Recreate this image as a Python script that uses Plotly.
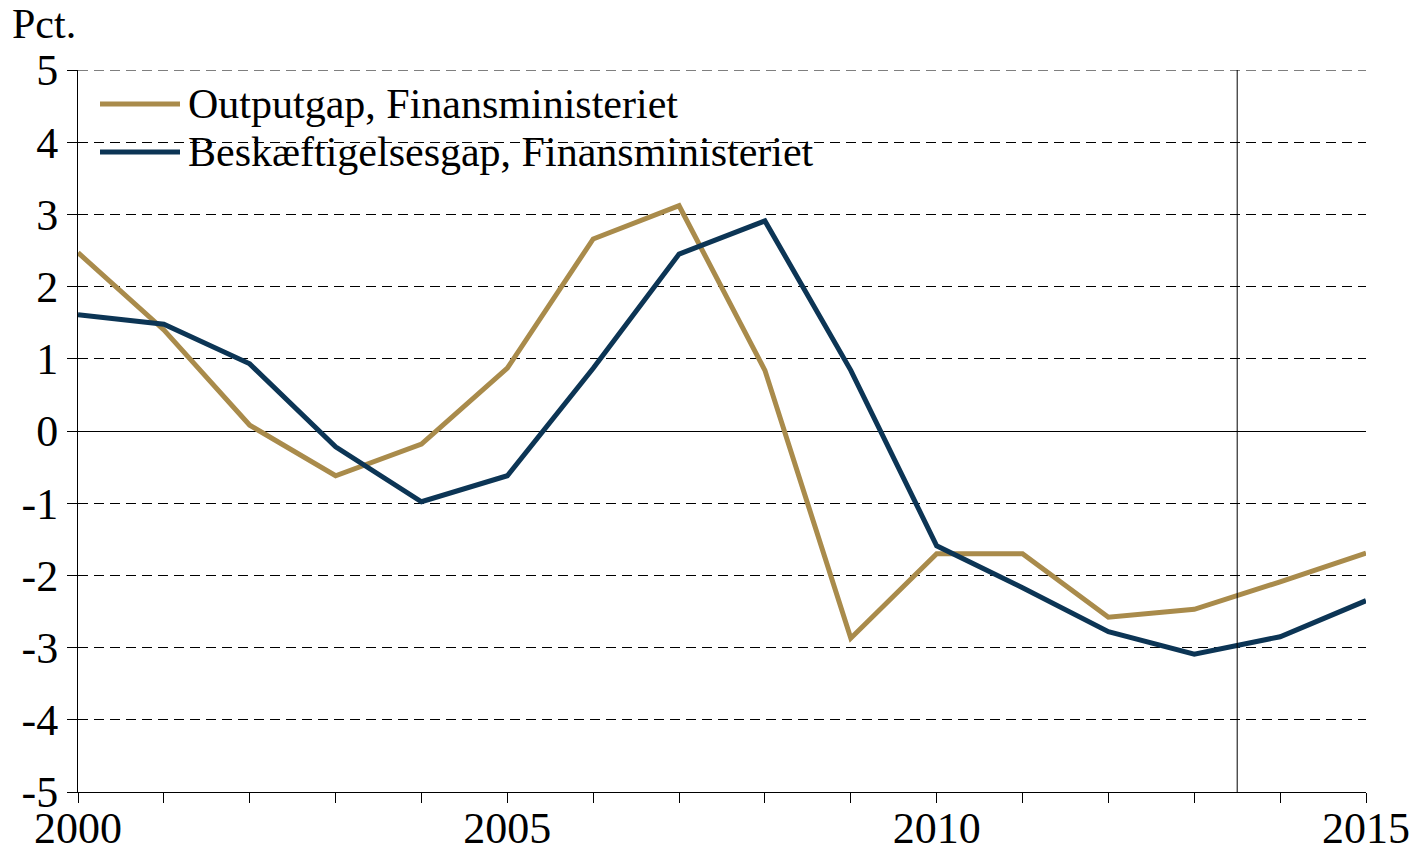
import plotly.graph_objects as go

years = list(range(2000, 2016))
outputgap = [2.47, 1.40, 0.08, -0.62, -0.18, 0.87, 2.66, 3.12, 0.84, -2.87,
             -1.70, -1.70, -2.58, -2.47, -2.09, -1.69]
beskaeftigelsesgap = [1.61, 1.48, 0.93, -0.22, -0.98, -0.62, 0.87, 2.45, 2.91, 0.84,
                      -1.59, -2.17, -2.78, -3.09, -2.85, -2.35]
series_names = ["Outputgap, Finansministeriet", "Beskæftigelsesgap, Finansministeriet"]
y_ticks = list(range(-5, 6))
x_label_years = [2000, 2005, 2010, 2015]
forecast_start = 2013.5

GOLD = "#A98B4B"
NAVY = "#0C3555"
FONT = "Liberation Serif, Times New Roman, serif"
DASH = "10px,6px"

fig = go.Figure()
fig.add_trace(go.Scatter(x=years, y=outputgap, mode="lines", name=series_names[0],
                         line=dict(color=GOLD, width=5)))
fig.add_trace(go.Scatter(x=years, y=beskaeftigelsesgap, mode="lines", name=series_names[1],
                         line=dict(color=NAVY, width=5)))

# figure fills the whole page (body margin removed below)
W, H = 1416, 851
# plot area: left 78, right 1366, top 70, bottom 792
L, T, R, B = 78, 70, W - 1366, H - 792
pw, ph = W - L - R, H - T - B


def px_x(p):
    return (p - L) / pw


def px_y(p):
    return (H - B - p) / ph


# hand-drawn legend with long line samples
for i, (name, col) in enumerate(zip(series_names, [GOLD, NAVY])):
    yy = px_y(104 + 48 * i)
    fig.add_shape(type="line", xref="paper", yref="paper",
                  x0=px_x(100), x1=px_x(180), y0=yy, y1=yy,
                  line=dict(color=col, width=5))
    fig.add_annotation(xref="paper", yref="paper", x=px_x(186), y=yy,
                       text=name, showarrow=False, xanchor="left", yanchor="middle",
                       font=dict(size=42, color="black", family=FONT))

# top gridline (plotly drops it at the edge)
fig.add_shape(type="line", xref="paper", yref="y", x0=0, x1=1, y0=5, y1=5,
              line=dict(color="black", width=1, dash=DASH))

# forecast divider
fig.add_shape(type="line", xref="x", yref="paper", x0=forecast_start, x1=forecast_start,
              y0=0, y1=1, line=dict(color="black", width=1))

fig.add_annotation(xref="paper", yref="paper", x=px_x(10), y=px_y(24), text="Pct.",
                   showarrow=False, xanchor="left", yanchor="middle",
                   font=dict(size=42, color="black", family=FONT))

fig.update_layout(
    width=W, height=H,
    margin=dict(l=L, r=R, t=T, b=B, autoexpand=False),
    plot_bgcolor="white", paper_bgcolor="white",
    showlegend=False,
    font=dict(family=FONT, size=44, color="black"),
    xaxis=dict(range=[2000, 2015], tickmode="array", tickvals=years,
               ticktext=[str(y) if y in x_label_years else "" for y in years],
               ticks="outside", ticklen=10, tickcolor="black", tickwidth=1,
               ticklabelstandoff=-13,
               showgrid=False, showline=True, linecolor="black", linewidth=1,
               zeroline=False, automargin=False, tickfont=dict(size=44)),
    yaxis=dict(range=[-5, 5], tickmode="array", tickvals=y_ticks,
               ticktext=[str(v).replace("\u2212", "-") for v in y_ticks],
               ticks="outside", ticklen=10, tickcolor="black", tickwidth=1,
               showgrid=True, gridcolor="black", gridwidth=1, griddash=DASH,
               zeroline=True, zerolinecolor="black", zerolinewidth=1,
               showline=True, linecolor="black", linewidth=1,
               automargin=False, tickfont=dict(size=44)),
)

fig.write_html("out.html", config={"displayModeBar": False},
               post_script="document.body.style.margin='0';")
